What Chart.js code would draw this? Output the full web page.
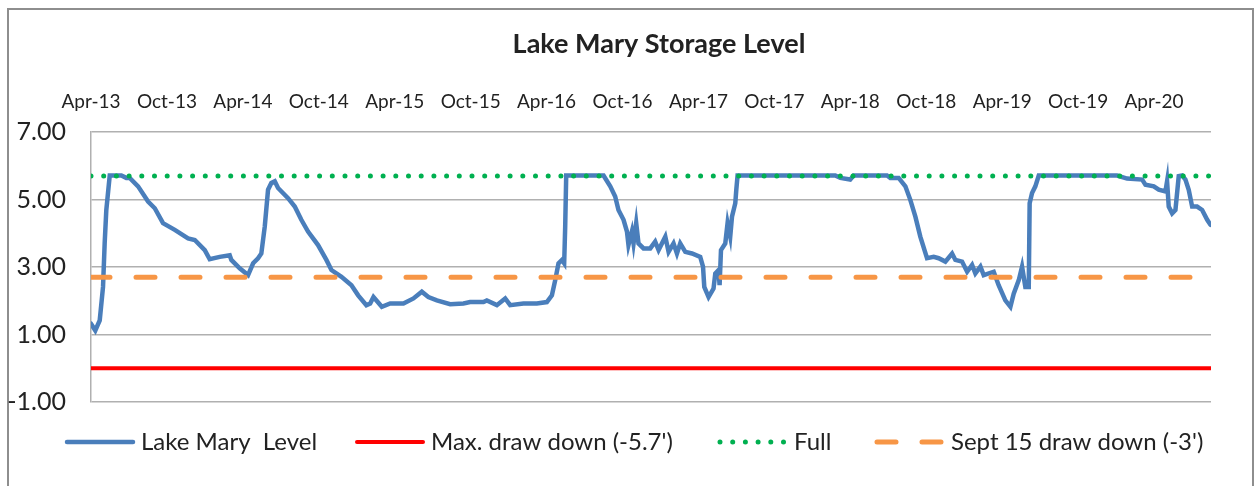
<!DOCTYPE html>
<html>
<head>
<meta charset="utf-8">
<title>Lake Mary Storage Level</title>
<script src="https://cdn.jsdelivr.net/npm/chart.js@4.4.0/dist/chart.umd.min.js"></script>
<style>
  html, body { margin: 0; padding: 0; background: #fff; }
  body { width: 1255px; height: 486px; position: relative; overflow: hidden; }
  .frame { position: absolute; left: 7px; top: 8px; width: 1247px; height: 500px; border: 2px solid #8e8e8e; box-sizing: border-box; }
  #chart { position: absolute; left: 0; top: 0; }
</style>
</head>
<body>
<div class="frame"></div>
<canvas id="chart" width="1255" height="486"></canvas>
<script>
// months after Apr-2013
const monthOffset = [
  0.0, 0.34, 0.69, 0.95, 1.08, 1.21, 1.48, 2.40, 2.79, 3.06,
  3.72, 4.51, 5.04, 5.69, 6.62, 7.67, 8.20, 8.99, 9.38, 10.17,
  10.96, 11.09, 11.75, 12.41, 12.81, 13.20, 13.46, 13.73, 13.99, 14.25,
  14.52, 14.78, 15.57, 16.10, 16.62, 17.15, 17.94, 18.60, 19.00, 19.79,
  20.58, 21.11, 21.76, 22.06, 22.32, 22.98, 23.64, 24.69, 25.48, 26.14,
  26.66, 27.33, 28.38, 29.43, 29.96, 31.01, 31.28, 32.07, 32.73, 33.12,
  34.17, 35.23, 36.02, 36.42, 36.68, 36.94, 37.21, 37.39, 37.47, 37.55,
  40.50, 41.03, 41.42, 41.68, 42.08, 42.35, 42.47, 42.74, 42.87, 43.08,
  43.26, 43.66, 44.19, 44.58, 44.85, 45.38, 45.64, 46.03, 46.30, 46.56,
  46.96, 47.49, 48.14, 48.36, 48.46, 48.80, 49.19, 49.33, 49.59, 49.67,
  49.78, 50.12, 50.30, 50.51, 50.65, 50.91, 50.99, 51.09, 58.81, 59.21,
  59.99, 60.26, 62.90, 63.16, 63.82, 64.35, 64.74, 65.14, 65.53, 66.06,
  66.59, 66.98, 67.51, 68.04, 68.30, 68.83, 69.23, 69.62, 69.88, 70.28,
  70.54, 71.33, 71.72, 72.25, 72.65, 72.91, 73.31, 73.57, 73.83, 74.10,
  74.17, 74.36, 74.62, 74.89, 81.08, 81.87, 83.06, 83.32, 83.98, 84.37,
  84.90, 85.03, 85.16, 85.43, 85.69, 85.95, 86.22, 86.48, 86.74, 87.01,
  87.40, 87.80, 88.20, 88.46
];
const lakeLevel = [
  1.32, 1.12, 1.42, 2.41, 3.70, 4.69, 5.71, 5.71, 5.64, 5.64,
  5.39, 4.94, 4.74, 4.30, 4.10, 3.85, 3.80, 3.50, 3.23, 3.30,
  3.35, 3.21, 2.96, 2.76, 3.11, 3.26, 3.40, 4.20, 5.29, 5.49,
  5.54, 5.34, 5.04, 4.79, 4.40, 4.05, 3.65, 3.21, 2.91, 2.71,
  2.46, 2.16, 1.87, 1.92, 2.11, 1.82, 1.92, 1.92, 2.07, 2.27,
  2.11, 2.01, 1.90, 1.92, 1.96, 1.96, 2.01, 1.87, 2.07, 1.87,
  1.92, 1.92, 1.96, 2.16, 2.61, 3.11, 3.21, 3.11, 4.20, 5.71,
  5.71, 5.39, 5.09, 4.69, 4.40, 4.05, 3.65, 4.05, 3.70, 4.30,
  3.70, 3.55, 3.55, 3.75, 3.50, 3.90, 3.45, 3.70, 3.40, 3.70,
  3.45, 3.40, 3.30, 3.01, 2.41, 2.11, 2.36, 2.81, 2.91, 2.46,
  3.50, 3.70, 4.30, 3.90, 4.49, 4.89, 5.29, 5.71, 5.71, 5.64,
  5.59, 5.71, 5.71, 5.64, 5.64, 5.39, 4.99, 4.49, 3.90, 3.26,
  3.30, 3.26, 3.16, 3.40, 3.21, 3.16, 2.86, 3.06, 2.81, 3.01,
  2.76, 2.86, 2.46, 2.01, 1.82, 2.21, 2.61, 3.01, 2.41, 2.41,
  4.89, 5.19, 5.39, 5.71, 5.71, 5.62, 5.59, 5.44, 5.39, 5.29,
  5.24, 5.54, 4.79, 4.59, 4.69, 5.69, 5.71, 5.59, 5.29, 4.79,
  4.79, 4.69, 4.40, 4.25
];
const maxDrawDown = 0.0;
const fullLevel = 5.7;
const septDrawDown = 2.7;
const xTickLabels = ['Apr-13', 'Oct-13', 'Apr-14', 'Oct-14', 'Apr-15', 'Oct-15', 'Apr-16', 'Oct-16',
  'Apr-17', 'Oct-17', 'Apr-18', 'Oct-18', 'Apr-19', 'Oct-19', 'Apr-20'];
const yTicks = [-1, 1, 3, 5, 7];

const textColor = '#222';
const gridColor = '#b0b0b0';

// flat reference line across the whole date range
const flatLine = v => [
  { x: monthOffset[0], y: v },
  { x: monthOffset[monthOffset.length - 1], y: v }
];

// Excel-like title and legend (legend line samples use each dataset's own style)
const legendItemX = [65, 355, 718, 875];
const titleAndLegend = {
  id: 'titleAndLegend',
  afterDraw(chart) {
    const ctx = chart.ctx;
    ctx.save();
    ctx.fillStyle = textColor;
    ctx.textBaseline = 'alphabetic';
    ctx.textAlign = 'center';
    ctx.font = 'bold 27px Lato';
    ctx.fillText('Lake Mary Storage Level', 659, 53);

    ctx.font = '24px Lato';
    ctx.textAlign = 'left';
    const y = 442;
    chart.data.datasets.forEach((ds, i) => {
      const x = legendItemX[i];
      ctx.beginPath();
      ctx.setLineDash(ds.borderDash || []);
      ctx.lineCap = ds.borderCapStyle || 'round';
      ctx.lineWidth = ds.borderWidth;
      ctx.strokeStyle = ds.borderColor;
      ctx.moveTo(x + 2, y);
      ctx.lineTo(x + 68, y);
      ctx.stroke();
      ctx.setLineDash([]);
      ctx.fillText(ds.label, x + 76, y + 8);
    });
    ctx.restore();
  }
};

document.addEventListener('DOMContentLoaded', function () {
  Chart.defaults.font.family = 'Lato';
  Chart.defaults.color = textColor;

  new Chart(document.getElementById('chart'), {
    type: 'line',
    data: {
      datasets: [
        {
          label: 'Lake Mary  Level',
          data: monthOffset.map((m, i) => ({ x: m, y: lakeLevel[i] })),
          borderColor: '#4a7ebb',
          borderWidth: 4.5,
          borderCapStyle: 'round',
          borderJoin: 'round',
          pointRadius: 0,
          tension: 0,
          order: 4
        },
        {
          label: "Max. draw down (-5.7')",
          data: flatLine(maxDrawDown),
          borderColor: '#ff0000',
          borderWidth: 4,
          borderCapStyle: 'round',
          pointRadius: 0,
          order: 3
        },
        {
          label: 'Full',
          data: flatLine(fullLevel),
          borderColor: '#00b050',
          borderWidth: 5,
          borderDash: [0, 12.7],
          borderCapStyle: 'round',
          pointRadius: 0,
          order: 2
        },
        {
          label: "Sept 15 draw down (-3')",
          data: flatLine(septDrawDown),
          borderColor: '#f79646',
          borderWidth: 5,
          borderDash: [19, 26],
          borderCapStyle: 'round',
          pointRadius: 0,
          order: 1
        }
      ]
    },
    options: {
      responsive: false,
      animation: false,
      layout: { padding: { top: 0, left: 0, right: 44, bottom: 84 } },
      plugins: {
        legend: { display: false },
        title: { display: false },
        tooltip: { enabled: false }
      },
      scales: {
        x: {
          type: 'linear',
          position: 'top',
          min: 0,
          max: 88.5,
          afterBuildTicks: s => { s.ticks = xTickLabels.map((t, i) => ({ value: i * 6 })); },
          afterFit: s => { s.height = 132; },
          ticks: {
            autoSkip: false,
            maxRotation: 0,
            padding: 19,
            font: { size: 19 },
            color: textColor,
            callback: v => xTickLabels[Math.round(v / 6)]
          },
          grid: { display: false, drawTicks: false },
          border: { display: false }
        },
        y: {
          min: -1,
          max: 7,
          afterBuildTicks: s => { s.ticks = yTicks.map(v => ({ value: v })); },
          afterFit: s => { s.width = 91; },
          ticks: {
            padding: 25,
            font: { size: 25 },
            color: textColor,
            callback: v => v.toFixed(2)
          },
          grid: { color: gridColor, lineWidth: 1.5, drawTicks: false },
          border: { display: true, color: gridColor, width: 1.5 }
        }
      }
    },
    plugins: [titleAndLegend]
  });
});
</script>
</body>
</html>
